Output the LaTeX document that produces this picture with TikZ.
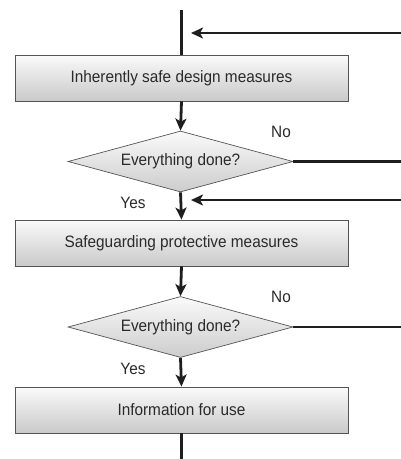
\documentclass[tikz,border=0pt]{standalone}
\usepackage{fontspec}
\setmainfont[FakeStretch=0.93]{Liberation Sans}
\usetikzlibrary{shapes.geometric,arrows.meta}
\definecolor{linec}{HTML}{1E1E1E}
\definecolor{textc}{HTML}{2A2A2A}
\definecolor{edgec}{HTML}{555555}
\begin{document}
\begin{tikzpicture}[x=1pt,y=-1pt,
  stepbox/.style={rectangle,draw=edgec,line width=0.9pt,top color=gray!4,bottom color=gray!42,
    minimum width=333pt,minimum height=46pt,inner sep=0pt,font=\fontsize{16.5}{19}\selectfont,text=textc},
  decide/.style={diamond,draw=edgec,line width=0.7pt,top color=gray!4,bottom color=gray!40,
    minimum width=225pt,minimum height=61pt,aspect=3.69,inner sep=0pt,font=\fontsize{16.5}{19}\selectfont,text=textc},
  flow/.style={draw=linec,line width=2.8pt},
  arr/.style={flow,-{Stealth[length=12pt,width=11pt,inset=3pt]}},
  lbl/.style={font=\fontsize{16.5}{19}\selectfont,text=textc,inner sep=0pt}]
\useasboundingbox (0,0) rectangle (401,459);
\node[stepbox] (b1) at (181.5,78) {Inherently safe design measures};
\node[decide] (d1) at (180.5,161.5) {Everything done?};
\node[stepbox] (b2) at (181.5,243) {Safeguarding protective measures};
\node[decide] (d2) at (180.5,327) {Everything done?};
\node[stepbox] (b3) at (181.5,410) {Information for use};
\coordinate (top) at (181.5,10);
\coordinate (bot) at (181.5,459);
\coordinate (r1) at (401,161.5);
\coordinate (r2) at (401,327);
\coordinate (f1s) at (401,33);
\coordinate (f1e) at (191,33);
\coordinate (f2s) at (401,200);
\coordinate (f2e) at (191,200);
\node[lbl] (no1) at (281,132) {No};
\node[lbl] (no2) at (281,297) {No};
\node[lbl] (yes1) at (133,203) {Yes};
\node[lbl] (yes2) at (133,369) {Yes};
\draw[flow] (top) -- (b1.north);
\draw[arr] (b1.south) -- (d1.north);
\draw[arr] (d1.south) -- (b2.north);
\draw[arr] (b2.south) -- (d2.north);
\draw[arr] (d2.south) -- (b3.north);
\draw[flow] (b3.south) -- (bot);
\draw[flow] (d1.east) -- (r1);
\draw[flow] (d2.east) -- (r2);
\draw[arr] (f1s) -- (f1e);
\draw[arr] (f2s) -- (f2e);
\end{tikzpicture}
\end{document}
